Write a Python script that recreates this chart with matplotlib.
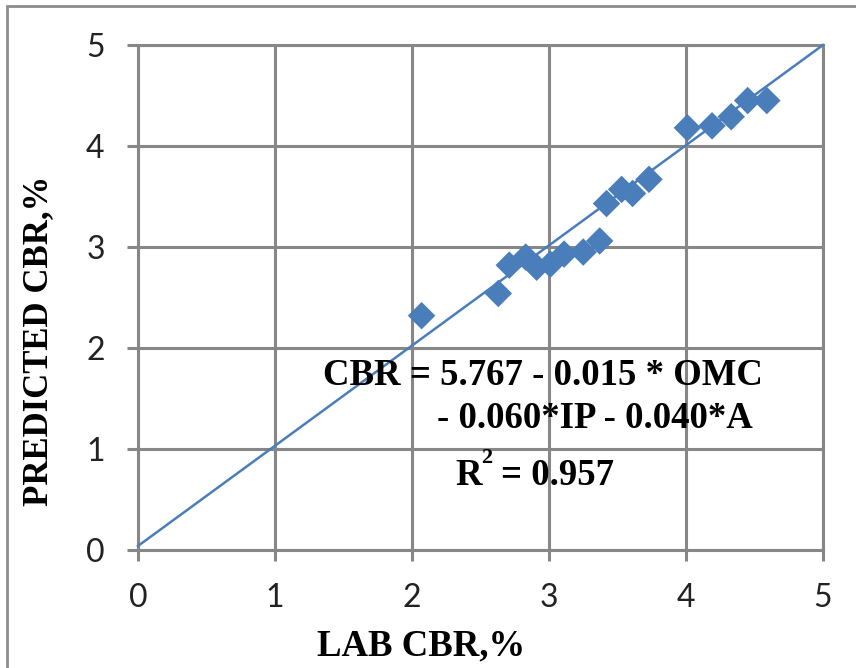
import matplotlib
matplotlib.use("Agg")
import matplotlib.pyplot as plt
from matplotlib.patches import Rectangle

# Laboratory vs predicted CBR values (%)
lab_cbr = [2.07, 2.63, 2.71, 2.83, 2.91, 3.01, 3.11, 3.25, 3.37,
           3.42, 3.53, 3.61, 3.73, 4.01, 4.19, 4.33, 4.45, 4.59]
predicted_cbr = [2.32, 2.54, 2.82, 2.90, 2.80, 2.83, 2.93, 2.95, 3.06,
                 3.43, 3.57, 3.53, 3.67, 4.18, 4.20, 4.29, 4.45, 4.45]

# Linear trend line through the scatter
fit_x = [0.0, 5.0]
fit_slope = 0.992
fit_intercept = 0.04

tick_values = [0, 1, 2, 3, 4, 5]
x_label = "LAB CBR,%"
y_label = "PREDICTED CBR,%"
eq_line1 = "CBR = 5.767 - 0.015 * OMC"
eq_line2 = "- 0.060*IP - 0.040*A"
r2_label = "R"
r2_power = "2"
r2_value = "= 0.957"

W, H = 856, 668
fig = plt.figure(figsize=(W / 100, H / 100), dpi=100)
fig.patch.set_facecolor("white")

# outer chart frame
fig.patches.append(Rectangle((7 / W, -0.05), 1.1, 1 - 6 / H + 0.05,
                             transform=fig.transFigure, fill=False,
                             edgecolor="#8c8c8c", lw=2.0))

left, right, top, bottom = 138, 823, 45, 550
ax = fig.add_axes([left / W, 1 - bottom / H, (right - left) / W, (bottom - top) / H])

grid_color = "#878787"
ax.set_xlim(0, 5)
ax.set_ylim(0, 5)
ax.set_xticks(tick_values)
ax.set_yticks(tick_values)
ax.grid(True, color=grid_color, lw=2.2)
ax.set_axisbelow(True)
for sp in ax.spines.values():
    sp.set_color(grid_color)
    sp.set_linewidth(2.2)

tick_font = ["Lato", "DejaVu Sans"]
ax.tick_params(axis="both", direction="out", length=8, width=2.2,
               color=grid_color, labelsize=23, pad=16)
for lab in ax.get_xticklabels() + ax.get_yticklabels():
    lab.set_family(tick_font)
    lab.set_color("#222222")

serif = "Liberation Serif"
ax.scatter(lab_cbr, predicted_cbr, marker="D", s=14 ** 2, color="#4a7ebb",
           edgecolors="none", zorder=3, clip_on=False)

fit_y = [fit_intercept + fit_slope * x for x in fit_x]
ax.plot(fit_x, fit_y, color="#4a7ebb", lw=1.8, zorder=4, clip_on=False)

ax.set_xlabel(x_label, family=serif, fontweight="bold", fontsize=26.5)
ax.xaxis.set_label_coords(0.413, -0.208)
ax.xaxis.label.set_va("baseline")
ax.set_ylabel(y_label, family=serif, fontweight="bold", fontsize=25)
ax.yaxis.set_label_coords(-0.145, 0.414)
ax.yaxis.label.set_va("center")
ax.yaxis.label.set_ha("center")

def px_to_data(px, py):
    return (px - left) / (right - left) * 5, (bottom - py) / (bottom - top) * 5

txt = dict(family=serif, fontweight="bold", fontsize=26.5, color="black",
           va="baseline", ha="left", zorder=5)
x1, y1 = px_to_data(323, 385)
ax.text(x1, y1, eq_line1, **txt)
x2, y2 = px_to_data(437, 428)
ax.text(x2, y2, eq_line2, **txt)
x3, y3 = px_to_data(455, 485)
ax.text(x3, y3, r2_label, **txt)
xs, ys = px_to_data(481, 463)
ax.text(xs, ys, r2_power, **dict(txt, fontsize=16))
xv, yv = px_to_data(501, 485)
ax.text(xv, yv, r2_value, **txt)

fig.savefig("out.png", dpi=100, facecolor="white")
